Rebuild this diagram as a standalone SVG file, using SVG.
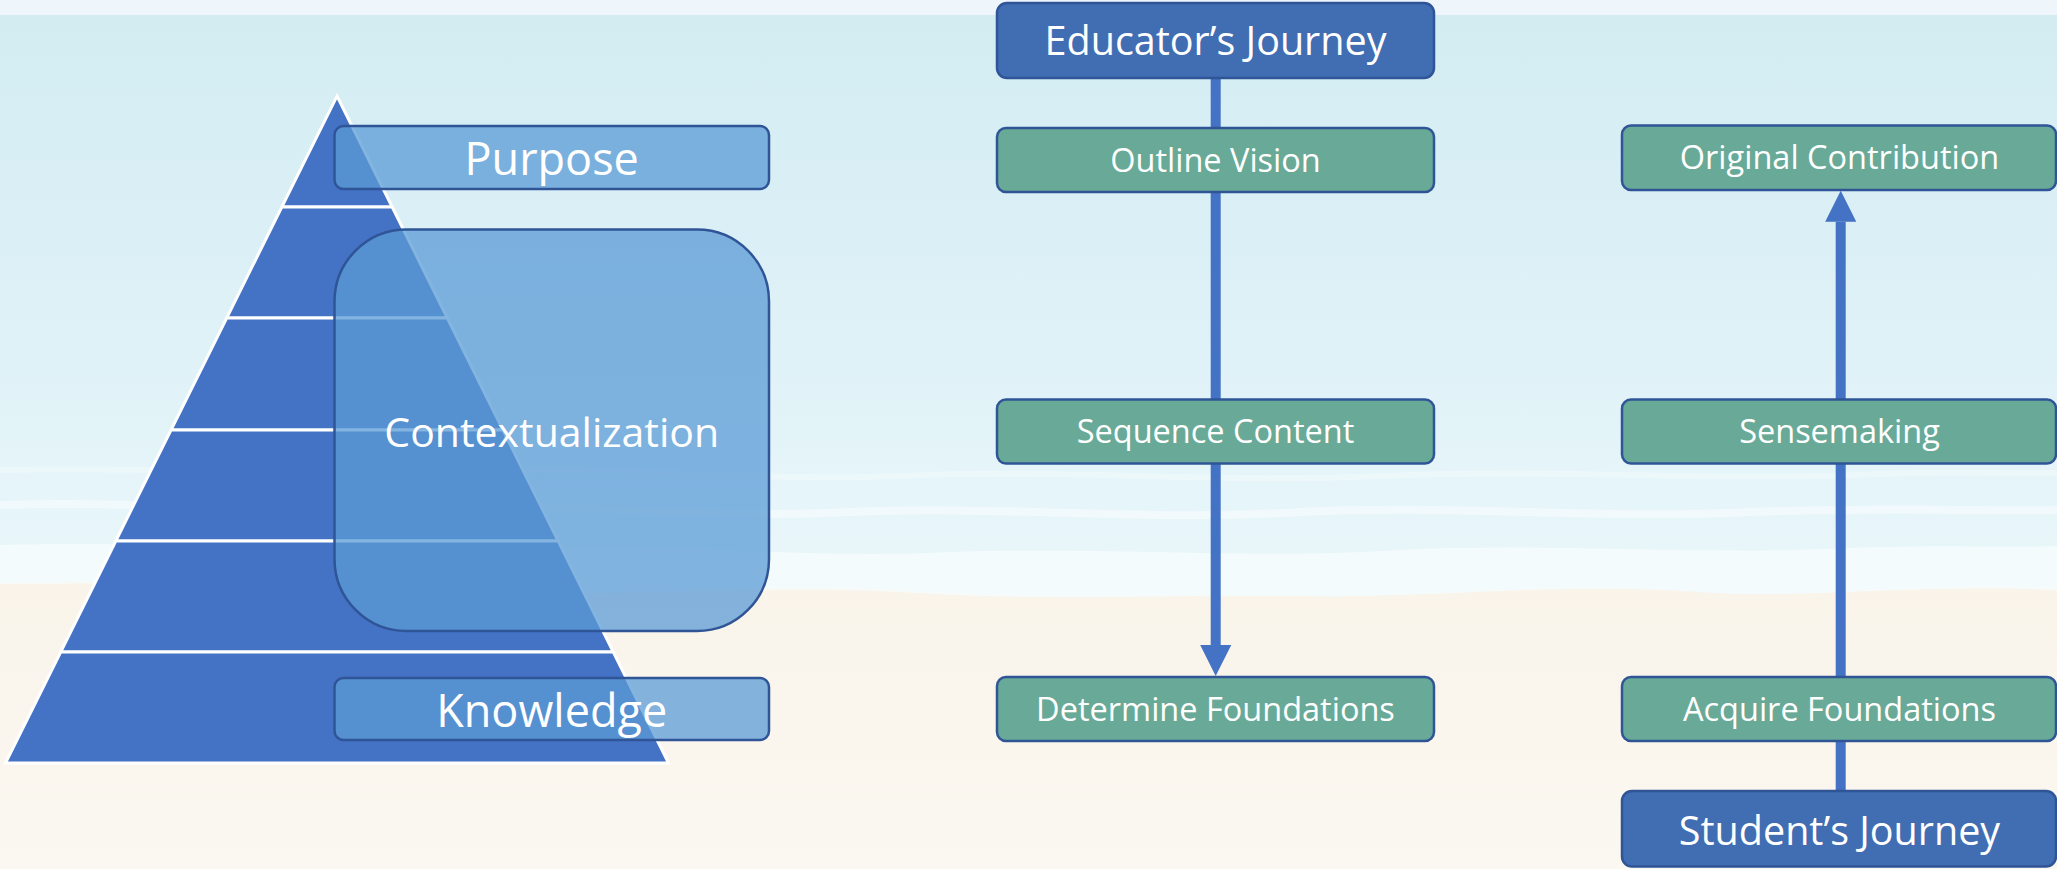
<svg xmlns="http://www.w3.org/2000/svg" width="2057" height="869" viewBox="0 0 2057 869">
<defs>
<linearGradient id="sea" x1="0" y1="0" x2="0" y2="1">
<stop offset="0" stop-color="#D2ECF2"/>
<stop offset="0.5" stop-color="#DDF1F7"/>
<stop offset="1" stop-color="#EAF7FA"/>
</linearGradient>
<linearGradient id="sand" x1="0" y1="0" x2="0" y2="1">
<stop offset="0" stop-color="#F4E9D6"/>
<stop offset="0.35" stop-color="#F8F0E3"/>
<stop offset="1" stop-color="#FBF8F1"/>
</linearGradient>
<marker id="arrow" viewBox="0 0 10 10" refX="0" refY="5" markerWidth="3.1" markerHeight="3.1" markerUnits="strokeWidth" orient="auto">
<path d="M0,0 L10,5 L0,10 z" fill="#4472C4"/>
</marker>
</defs>
<style>
.layer{fill:#4472C4;stroke:#FFFFFF;stroke-width:3;stroke-linejoin:miter}
.overlay{fill:#5B9BD5;fill-opacity:0.75;stroke:#2F5597;stroke-width:2.5}
.step{fill:#68AA97;stroke:#2F5597;stroke-width:2.5}
.head{fill:#416DB2;stroke:#2F5597;stroke-width:2.5}
.conn{stroke:#4472C4;stroke-width:10;fill:none}
text{font-family:"Open Sans","Noto Sans","Liberation Sans",sans-serif;fill:#FFFFFF;text-anchor:middle}
.big{font-size:45px}
.ctx{font-size:41px}
.hd{font-size:39.5px}
.st{font-size:32.5px}
</style>
<g id="background">
<rect x="0" y="0" width="2057" height="869" fill="url(#sand)"/>
<path d="M0,0 H2057 V588 C1900,582 1800,600 1700,592 C1550,580 1450,598 1300,596 C1150,594 1050,600 900,590 C750,582 650,596 500,590 C350,584 200,580 0,582 Z" fill="url(#sea)"/>
<rect x="0" y="0" width="2057" height="15" fill="#EEF6FC"/>
<path d="M0,545 C200,540 350,556 500,548 C650,540 800,560 950,552 C1100,546 1250,560 1400,550 C1550,542 1700,556 1850,548 C1950,544 2000,548 2057,546 V590 C1900,584 1800,600 1700,592 C1550,582 1450,598 1300,596 C1150,594 1050,602 900,592 C750,584 650,598 500,592 C350,586 200,582 0,584 Z" fill="#F6FBFD" fill-opacity="0.85"/>
<path d="M0,505 C150,500 250,515 400,508 C550,500 700,520 850,512 C1000,505 1150,522 1300,512 C1450,504 1600,520 1750,512 C1900,506 2000,512 2057,510" stroke="#FFFFFF" stroke-opacity="0.45" stroke-width="8" fill="none"/>
<path d="M0,470 C180,466 300,478 450,472 C620,465 760,482 900,476 C1080,468 1200,484 1380,476 C1560,468 1700,482 1880,474 C1960,471 2010,474 2057,473" stroke="#FFFFFF" stroke-opacity="0.3" stroke-width="6" fill="none"/>
</g>
<g id="pyramid">
<polygon class="layer" points="337,96 392.2,207 281.8,207"/>
<polygon class="layer" points="281.8,207 392.2,207 447.3,318 226.7,318"/>
<polygon class="layer" points="226.7,318 447.3,318 503,430 171,430"/>
<polygon class="layer" points="171,430 503,430 558.2,541 115.8,541"/>
<polygon class="layer" points="115.8,541 558.2,541 613.3,652 60.7,652"/>
<polygon class="layer" points="60.7,652 613.3,652 668.5,763 5.5,763"/>
</g>
<g id="purpose">
<rect class="overlay" x="334.5" y="126" width="434.5" height="63" rx="9"/>
<text class="big" x="551.7" y="174.5">Purpose</text>
</g>
<g id="contextualization">
<rect class="overlay" x="334.5" y="229.5" width="434.5" height="401.5" rx="72"/>
<text class="ctx" x="551.7" y="447">Contextualization</text>
</g>
<g id="knowledge">
<rect class="overlay" x="334.5" y="678" width="434.5" height="62" rx="9"/>
<text class="big" x="551.7" y="727">Knowledge</text>
</g>
<g id="connectors">
<line class="conn" x1="1215.7" y1="78" x2="1215.7" y2="645" marker-end="url(#arrow)"/>
<line class="conn" x1="1840.7" y1="791" x2="1840.7" y2="221.7" marker-end="url(#arrow)"/>
</g>
<g id="educators-journey">
<rect class="head" x="997" y="3" width="437" height="75" rx="10"/>
<text class="hd" x="1215.5" y="55">Educator’s Journey</text>
</g>
<g id="outline-vision">
<rect class="step" x="997" y="128" width="437" height="64" rx="9"/>
<text class="st" x="1215.5" y="171.7">Outline Vision</text>
</g>
<g id="sequence-content">
<rect class="step" x="997" y="399.5" width="437" height="64" rx="9"/>
<text class="st" x="1215.5" y="443.3">Sequence Content</text>
</g>
<g id="determine-foundations">
<rect class="step" x="997" y="677" width="437" height="64" rx="9"/>
<text class="st" x="1215.5" y="720.7">Determine Foundations</text>
</g>
<g id="original-contribution">
<rect class="step" x="1622" y="125.5" width="434" height="64.5" rx="9"/>
<text class="st" x="1839.5" y="169.3">Original Contribution</text>
</g>
<g id="sensemaking">
<rect class="step" x="1622" y="399.5" width="434" height="64" rx="9"/>
<text class="st" x="1839.5" y="443.3">Sensemaking</text>
</g>
<g id="acquire-foundations">
<rect class="step" x="1622" y="677" width="434" height="64" rx="9"/>
<text class="st" x="1839.5" y="720.7">Acquire Foundations</text>
</g>
<g id="students-journey">
<rect class="head" x="1622" y="791" width="434" height="75.5" rx="10"/>
<text class="hd" x="1839.5" y="845">Student’s Journey</text>
</g>
</svg>
